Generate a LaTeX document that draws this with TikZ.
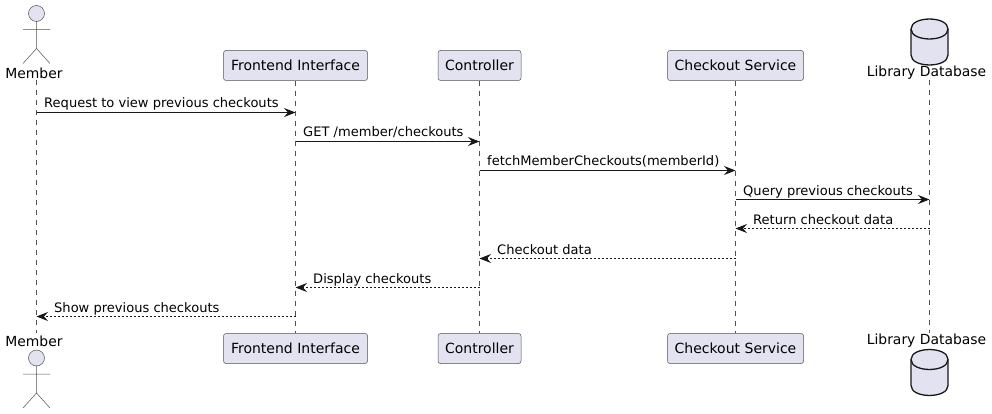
\documentclass[tikz,border=0pt]{standalone}
\usepackage{fontspec}
\setmainfont{DejaVu Sans}
\usetikzlibrary{arrows.meta}
\definecolor{pfill}{HTML}{E2E2F0}
\definecolor{pline}{HTML}{181818}
\tikzset{
  participant/.style={draw=pline!75,fill=pfill,line width=0.5pt,rounded corners=2.5pt,minimum height=30pt,inner sep=0pt,anchor=center,font=\fontsize{14}{16}\selectfont},
  actorlabel/.style={inner sep=0pt,font=\fontsize{13.9}{16}\selectfont,text=black},
  lifeline/.style={draw=pline!75,line width=0.5pt,dash pattern=on 5pt off 5pt},
  stick/.style={draw=pline!75,line width=0.5pt},
  msg/.style={draw=pline,line width=1pt,-{Stealth[length=11.5pt,width=9pt,inset=4pt]}},
  reply/.style={draw=pline,line width=0.8pt,dash pattern=on 2pt off 2pt,-{Stealth[length=11.5pt,width=9pt,inset=4pt,sep=0pt]}},
  msglabel/.style={anchor=base west,inner sep=0pt,font=\fontsize{13.05}{15}\selectfont,text=black},
  dbshape/.style={draw=pline,fill=pfill,line width=1.3pt}
}
\newcommand{\stickman}[2]{%
  \draw[stick,fill=pfill] (#1,#2) circle[radius=8pt];
  \draw[stick] (#1,#2+8) -- (#1,#2+35)
    (#1-13.5,#2+16) -- (#1+13.5,#2+16)
    (#1-13.5,#2+50) -- (#1,#2+35) -- (#1+13.5,#2+50);
}
\newcommand{\cylinder}[2]{%
  \draw[dbshape] (#1-18.5,#2+10)
    .. controls (#1-18.5,#2-3.3) and (#1+18.5,#2-3.3) .. (#1+18.5,#2+10)
    -- (#1+18.5,#2+36)
    .. controls (#1+18.5,#2+49.3) and (#1-18.5,#2+49.3) .. (#1-18.5,#2+36) -- cycle;
  \draw[dbshape,fill=none] (#1-18.5,#2+10)
    .. controls (#1-18.5,#2+23.3) and (#1+18.5,#2+23.3) .. (#1+18.5,#2+10);
}
\begin{document}
\begin{tikzpicture}[x=1pt,y=-1pt]
\useasboundingbox (0,0) rectangle (992,414);
% participant labels and boxes
\node[actorlabel] (memT) at (34,73) {Member};
\node[actorlabel] (memB) at (34,341) {Member};
\node[actorlabel] (dbT) at (926.5,73) {Library Database};
\node[actorlabel] (dbB) at (926.5,341) {Library Database};
\node[participant,minimum width=144pt] (feT) at (295.5,65.5) {Frontend Interface};
\node[participant,minimum width=144pt] (feB) at (295.5,348.5) {Frontend Interface};
\node[participant,minimum width=83pt] (ctT) at (479.5,65.5) {Controller};
\node[participant,minimum width=83pt] (ctB) at (479.5,348.5) {Controller};
\node[participant,minimum width=136pt] (csT) at (735.5,65.5) {Checkout Service};
\node[participant,minimum width=136pt] (csB) at (735.5,348.5) {Checkout Service};
\coordinate (memLT) at (36.5,80);
\coordinate (memLB) at (36.5,333);
\coordinate (dbLT) at (929.5,80);
\coordinate (dbLB) at (929.5,333);
% lifelines
\draw[lifeline] (memLT) -- (memLB);
\draw[lifeline] (feT.south) -- (feB.north);
\draw[lifeline] (ctT.south) -- (ctB.north);
\draw[lifeline] (csT.south) -- (csB.north);
\draw[lifeline] (dbLT) -- (dbLB);
% actors and databases
\stickman{36.5}{13.5}
\stickman{36.5}{358}
\cylinder{929.5}{19}
\cylinder{929.5}{349.5}
% messages
\draw[msg] (memLT |- 0,112.5) -- (feT |- 0,112.5);
\node[msglabel] (t1) at (44,108) {Request to view previous checkouts};
\draw[msg] (feT |- 0,141.5) -- (ctT |- 0,141.5);
\node[msglabel] (t2) at (303,137) {GET /member/checkouts};
\draw[msg] (ctT |- 0,170.5) -- (csT |- 0,170.5);
\node[msglabel] (t3) at (487,166) {fetchMemberCheckouts(memberId)};
\draw[msg] (csT |- 0,199.5) -- (dbLT |- 0,199.5);
\node[msglabel] (t4) at (743,195) {Query previous checkouts};
\draw[reply] (dbLT |- 0,228.5) -- (csT |- 0,228.5);
\node[msglabel] (t5) at (753,224) {Return checkout data};
\draw[reply] (csT |- 0,258.5) -- (ctT |- 0,258.5);
\node[msglabel] (t6) at (497,254) {Checkout data};
\draw[reply] (ctT |- 0,287.5) -- (feT |- 0,287.5);
\node[msglabel] (t7) at (313,283) {Display checkouts};
\draw[reply] (feT |- 0,316.5) -- (memLT |- 0,316.5);
\node[msglabel] (t8) at (54,312) {Show previous checkouts};
\end{tikzpicture}
\end{document}
